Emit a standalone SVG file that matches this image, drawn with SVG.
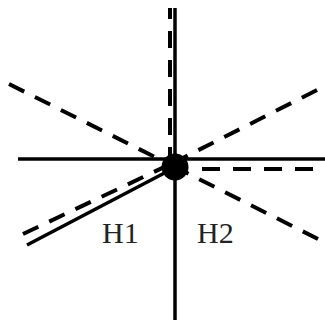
<svg xmlns="http://www.w3.org/2000/svg" width="325" height="320" viewBox="0 0 325 320">
<style>
.s{stroke:#000;stroke-width:3.5;fill:none}
.d{stroke:#000;stroke-width:4;fill:none;stroke-dasharray:17 12}
.t{font-family:"Liberation Serif",serif;font-size:30px;fill:#222}
</style>
<rect width="325" height="320" fill="#fff"/>
<g id="connectors">
<line class="s" x1="175" y1="8" x2="175" y2="320"/>
<line class="s" x1="18" y1="159" x2="325" y2="159"/>
<line class="s" x1="27" y1="245" x2="174" y2="168"/>
<line class="d" x1="170" y1="8" x2="170" y2="160" stroke-dashoffset="6"/>
<line class="d" x1="202" y1="169" x2="325" y2="169" style="stroke-dasharray:18 13"/>
<line class="d" x1="9" y1="84" x2="175" y2="167"/>
<line class="d" x1="317" y1="90" x2="175" y2="162"/>
<line class="d" x1="318" y1="239" x2="175" y2="167"/>
<line class="d" x1="23" y1="234" x2="175" y2="162"/>
</g>
<g id="center"><circle cx="175" cy="167" r="13.5" fill="#000"/></g>
<g id="H1"><text class="t" x="102" y="243">H1</text></g>
<g id="H2"><text class="t" x="197" y="243">H2</text></g>
</svg>
